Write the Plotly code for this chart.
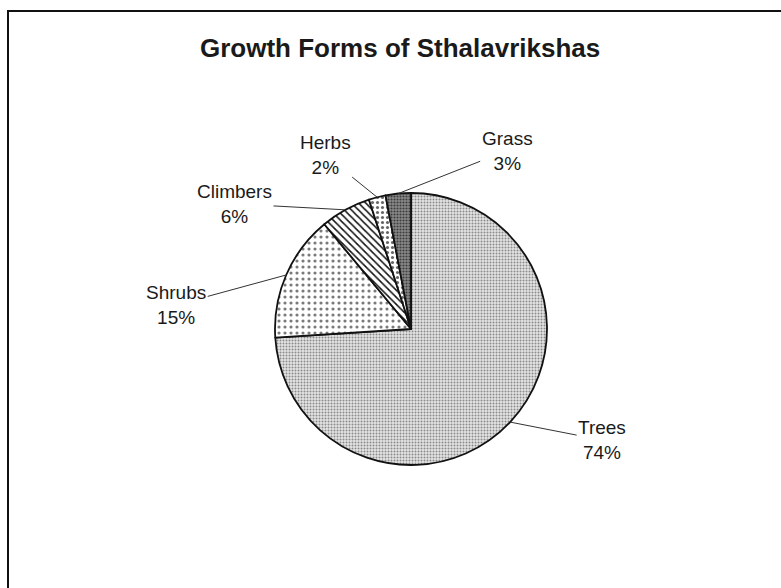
import math
import plotly.graph_objects as go

# ---- data ----
categories = ["Trees", "Shrubs", "Climbers", "Herbs", "Grass"]
values = [74, 15, 6, 2, 3]
title_text = "Growth Forms of Sthalavrikshas"

# ---- styles ----
W, H = 781, 588
FONT = "Arial, Liberation Sans, sans-serif"
pattern_shapes = [".", ".", "\\", ".", "."]
pattern_bg = ["#e4e4e4", "#ffffff", "#ffffff", "#ffffff", "#8a8a8a"]
pattern_fg = ["#8a8a8a", "#7a7a7a", "#111111", "#666666", "#3c3c3c"]
pattern_size = [3, 6, 5, 5, 3]
pattern_solid = [0.35, 0.22, 0.3, 0.3, 0.4]
# label text offsets (pixels) from the slice edge point
label_dx = [92, -110, -111, -52, 109]
label_dy = [18, 30, -6, -42, -43]

# pie placement (pixels)
cx_px, cy_px, r_px = 411, 329, 136
dom_x = [(cx_px - r_px) / W, (cx_px + r_px) / W]
dom_y = [(H - cy_px - r_px) / H, (H - cy_px + r_px) / H]

fig = go.Figure()
fig.add_trace(go.Pie(
    labels=categories,
    values=values,
    sort=False,
    direction="clockwise",
    rotation=0,
    textinfo="none",
    hoverinfo="label+percent",
    showlegend=False,
    domain=dict(x=dom_x, y=dom_y),
    marker=dict(
        colors=pattern_bg,
        line=dict(color="#111111", width=1.8),
        pattern=dict(shape=pattern_shapes, bgcolor=pattern_bg, fgcolor=pattern_fg,
                     size=pattern_size, solidity=pattern_solid, fillmode="replace"),
    ),
))

total = sum(values)
cum = 0
annotations = []
for i, (lab, v) in enumerate(zip(categories, values)):
    mid = (cum + v / 2) / total * 2 * math.pi
    cum += v
    tx = (cx_px + r_px * math.sin(mid)) / W
    ty = (H - cy_px + r_px * math.cos(mid)) / H
    annotations.append(dict(
        x=tx, y=ty, xref="paper", yref="paper",
        text=f"{lab}<br>{v / total * 100:.0f}%",
        showarrow=True, arrowhead=0, arrowwidth=1, arrowcolor="#333333",
        ax=label_dx[i], ay=label_dy[i], standoff=0,
        font=dict(family=FONT, size=19, color="#1a1a1a"),
        align="center",
    ))

annotations.append(dict(
    x=400 / W, y=1 - 48 / H, xref="paper", yref="paper",
    text=f"<b>{title_text}</b>", showarrow=False,
    font=dict(family=FONT, size=26, color="#1a1a1a"),
    xanchor="center", yanchor="middle",
))

fig.update_layout(
    width=W, height=H,
    margin=dict(l=0, r=0, t=0, b=0),
    paper_bgcolor="white",
    plot_bgcolor="white",
    annotations=annotations,
    shapes=[dict(type="rect", xref="paper", yref="paper",
                 x0=8 / W, x1=1.05, y0=-0.05, y1=1 - 11 / H,
                 line=dict(color="#111111", width=2))],
)

fig.write_html("out.html")
